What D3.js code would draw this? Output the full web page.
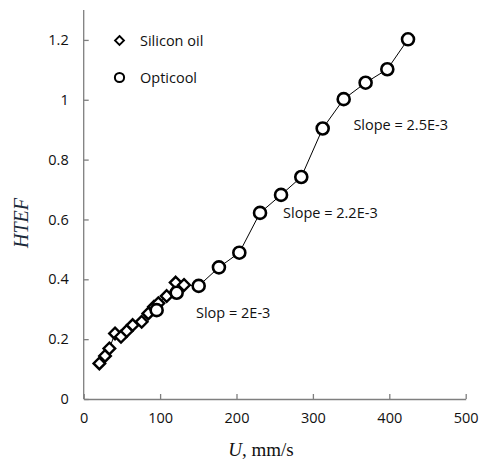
<!DOCTYPE html>
<html><head><meta charset="utf-8">
<script src="https://cdn.jsdelivr.net/npm/d3@7"></script>
<style>body{margin:0;background:#fff}svg{display:block}</style>
</head><body>
<svg id="chart" width="483" height="461"></svg>
<script>
// Data
const siliconU    = [20.5, 27.9, 33.6, 41, 48.8, 56.3, 64.1, 75.9, 84.6, 92, 97.7, 108.6, 120.4, 131.3];
const siliconHTEF = [0.119, 0.144, 0.169, 0.219, 0.208, 0.227, 0.247, 0.258, 0.286, 0.308, 0.32, 0.344, 0.389, 0.381];
const opticoolU    = [95.5, 121.7, 150.5, 177, 203.7, 230.8, 258.3, 284.8, 312.8, 340.3, 369, 397.4, 424.5];
const opticoolHTEF = [0.297, 0.355, 0.378, 0.44, 0.489, 0.622, 0.682, 0.742, 0.904, 1.002, 1.057, 1.102, 1.202];
const xTicks = [0, 100, 200, 300, 400, 500];
const yTicks = [0, 0.2, 0.4, 0.6, 0.8, 1, 1.2];
const annotations = [
  {text: "Slope = 2.5E-3", u: 353, v: 0.9},
  {text: "Slope = 2.2E-3", u: 261, v: 0.605},
  {text: "Slop = 2E-3", u: 147, v: 0.27}
];

const svg = d3.select("#chart");
const x = d3.scaleLinear().domain([0, 500]).range([83.7, 465.7]);
const y = d3.scaleLinear().domain([0, 1.3]).range([399, 10]);
const axisColor = "#7f7f7f";
const font = "'Open Sans', 'Liberation Sans', sans-serif";
const fs = 14.5;

// axes
const xAxis = svg.append("g").attr("transform", `translate(0,${y(0)})`)
  .call(d3.axisBottom(x).tickValues(xTicks).tickSizeInner(-5).tickSizeOuter(0).tickFormat(d3.format("d")).tickPadding(14));
const yAxis = svg.append("g").attr("transform", `translate(${x(0)},0)`)
  .call(d3.axisLeft(y).tickValues(yTicks).tickSizeInner(-5).tickSizeOuter(0).tickFormat(d => d === 0 ? "0" : d3.format("~g")(d)).tickPadding(15));
[xAxis, yAxis].forEach(g => {
  g.select(".domain").attr("stroke", axisColor).attr("stroke-width", 1.3);
  g.selectAll(".tick line").attr("stroke", axisColor).attr("stroke-width", 1.3);
  g.selectAll(".tick text").attr("fill", "#111").attr("font-family", font).attr("font-size", fs).attr("font-weight", 500);
});
yAxis.select(".domain").attr("d", `M0,${y(1.3)}V${y(0)}`);

// lines
const line = d3.line().x(d => x(d[0])).y(d => y(d[1]));
const sil = siliconU.map((u, i) => [u, siliconHTEF[i]]);
const opt = opticoolU.map((u, i) => [u, opticoolHTEF[i]]);
svg.append("path").datum(sil).attr("d", line).attr("fill", "none").attr("stroke", "#000").attr("stroke-width", 1);
svg.append("path").datum([sil[sil.length - 1], ...opt.slice(2)]).attr("d", line).attr("fill", "none").attr("stroke", "#000").attr("stroke-width", 1);

// markers
function diamondPath(s) { return `M0,${-s}L${s},0L0,${s}L${-s},0Z`; }
svg.append("g").selectAll("path").data(sil).join("path")
  .attr("d", diamondPath(5.8))
  .attr("transform", d => `translate(${x(d[0])},${y(d[1])})`)
  .attr("fill", "#fff").attr("stroke", "#000").attr("stroke-width", 2.4);
svg.append("g").selectAll("circle").data(opt).join("circle")
  .attr("cx", d => x(d[0])).attr("cy", d => y(d[1])).attr("r", 6)
  .attr("fill", "#fff").attr("stroke", "#000").attr("stroke-width", 2.6);

// legend
const lg = svg.append("g");
lg.append("path").attr("d", diamondPath(4.5)).attr("transform", "translate(119.5,40.5)")
  .attr("fill", "#fff").attr("stroke", "#000").attr("stroke-width", 1.8);
lg.append("circle").attr("cx", 119.5).attr("cy", 77.5).attr("r", 4.6)
  .attr("fill", "#fff").attr("stroke", "#000").attr("stroke-width", 2);
lg.append("text").attr("x", 140).attr("y", 45.5).text("Silicon oil")
  .attr("font-family", font).attr("font-size", fs).attr("font-weight", 500).attr("fill", "#111");
lg.append("text").attr("x", 140).attr("y", 82.5).text("Opticool")
  .attr("font-family", font).attr("font-size", fs).attr("font-weight", 500).attr("fill", "#111");

// annotations
svg.append("g").selectAll("text").data(annotations).join("text")
  .attr("x", d => x(d.u)).attr("y", d => y(d.v))
  .text(d => d.text)
  .attr("font-family", font).attr("font-size", fs).attr("font-weight", 500).attr("fill", "#111");

// axis titles
const xt = svg.append("text").attr("x", 261).attr("y", 456).attr("text-anchor", "middle")
  .attr("font-family", "'Liberation Serif', 'DejaVu Serif', serif").attr("font-size", 19).attr("fill", "#111");
xt.append("tspan").attr("font-style", "italic").text("U");
xt.append("tspan").text(", mm/s");
svg.append("text").attr("transform", "translate(28,223) rotate(-90)").attr("text-anchor", "middle")
  .attr("font-family", "'Liberation Serif', 'DejaVu Serif', serif").attr("font-style", "italic")
  .attr("font-size", 20).attr("fill", "#1a2a3a").text("HTEF");
</script>
</body></html>
